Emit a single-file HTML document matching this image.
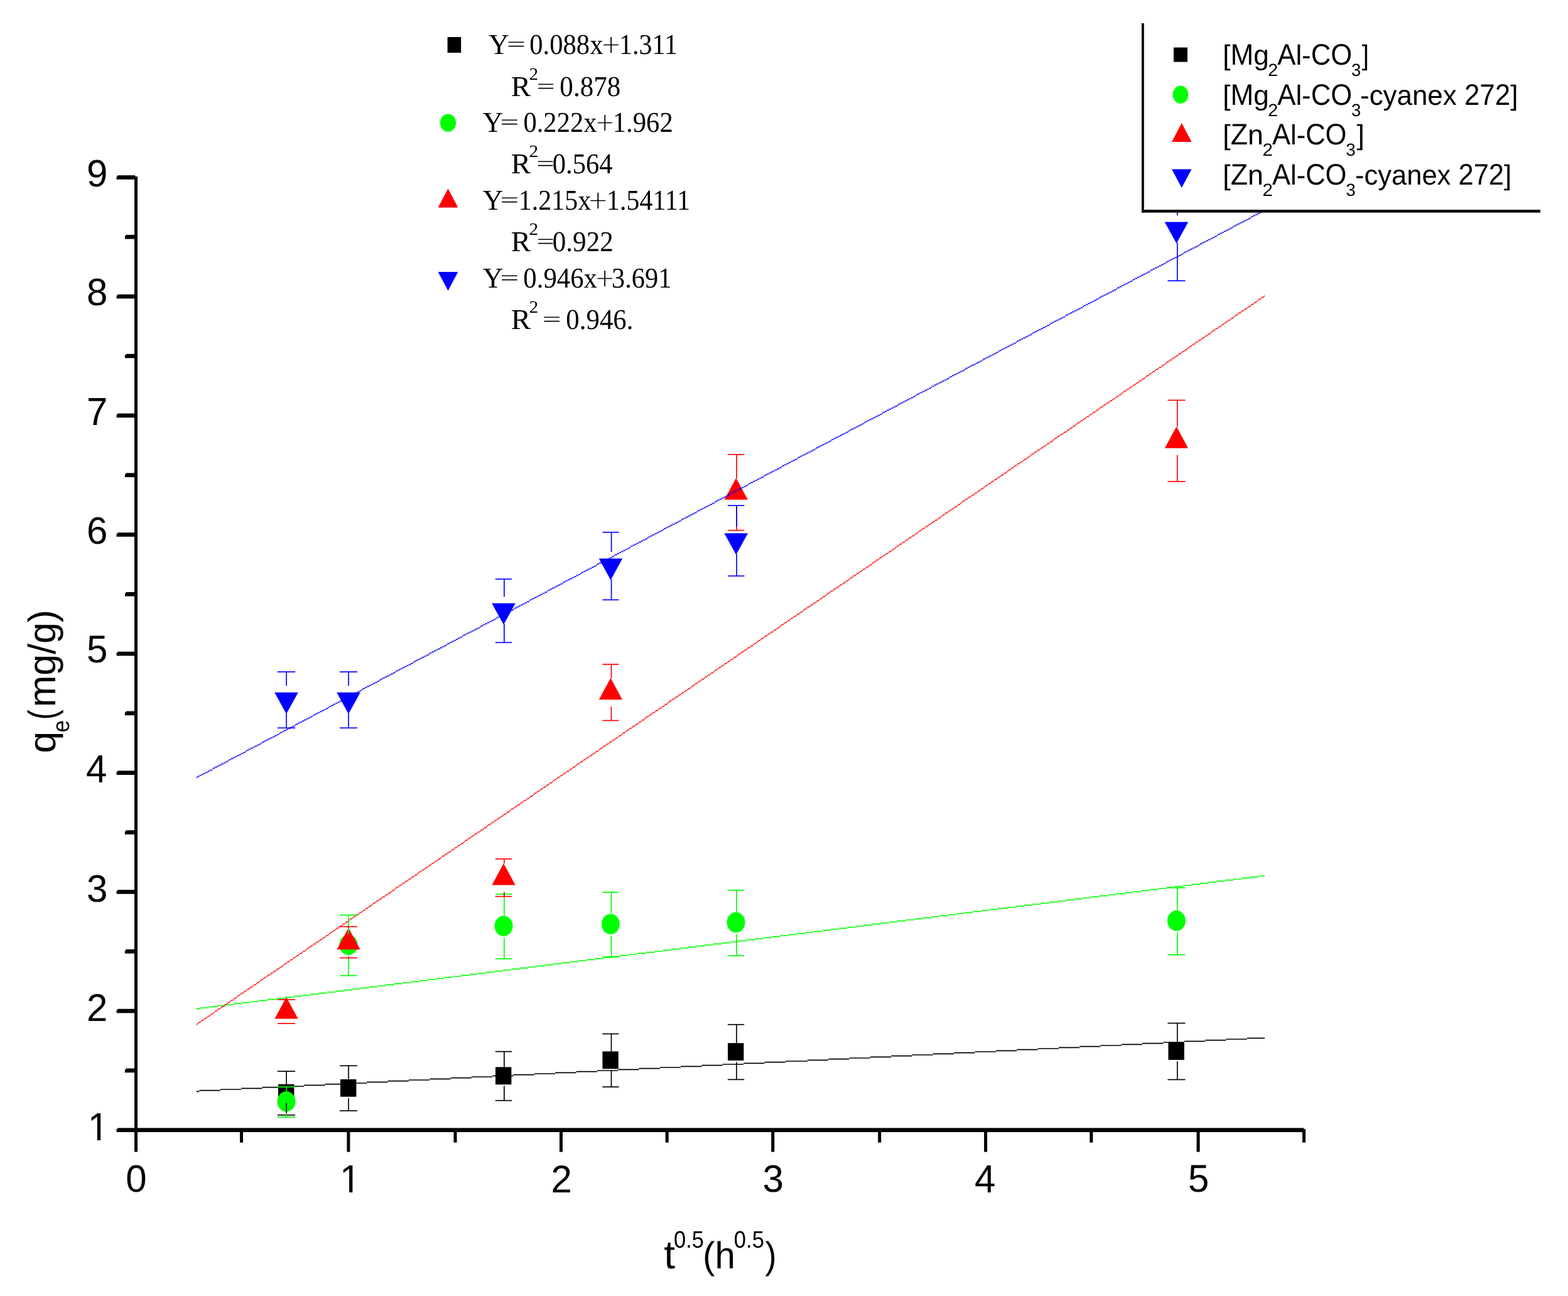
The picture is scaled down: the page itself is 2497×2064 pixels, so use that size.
<!DOCTYPE html>
<html lang="en"><head><meta charset="utf-8"><title>Intraparticle diffusion plot</title>
<style>
html,body{margin:0;padding:0;background:#fff;}
body{width:2497px;height:2064px;overflow:hidden;}
svg{display:block;}
text{text-rendering:geometricPrecision;}
.sans{font-family:"Liberation Sans",Arial,Helvetica,sans-serif;fill:#000;}
.serif{font-family:"Liberation Serif","Times New Roman",Times,serif;fill:#000;}
.op{font-family:"DejaVu Sans Light","DejaVu Sans","Liberation Sans",sans-serif;font-weight:200;fill:#000;}
</style></head><body>
<svg width="2497" height="2064" viewBox="0 0 2497 2064">
<rect x="0" y="0" width="2497" height="2064" fill="#fff"/>
<g id="markers">
<rect x="443.00" y="1726.65" width="25.40" height="27.80" fill="#000"/>
<rect x="542.00" y="1718.85" width="25.40" height="27.80" fill="#000"/>
<rect x="789.00" y="1699.40" width="25.40" height="27.80" fill="#000"/>
<rect x="959.40" y="1674.45" width="25.40" height="27.80" fill="#000"/>
<rect x="1159.00" y="1661.20" width="25.40" height="27.80" fill="#000"/>
<rect x="1860.50" y="1660.15" width="25.40" height="27.80" fill="#000"/>
<ellipse cx="456.00" cy="1754.30" rx="14.5" ry="16.3" fill="#0f0"/>
<ellipse cx="555.00" cy="1504.70" rx="14.5" ry="16.3" fill="#0f0"/>
<ellipse cx="802.00" cy="1474.70" rx="14.5" ry="16.3" fill="#0f0"/>
<ellipse cx="972.40" cy="1471.70" rx="14.5" ry="16.3" fill="#0f0"/>
<ellipse cx="1172.00" cy="1469.05" rx="14.5" ry="16.3" fill="#0f0"/>
<ellipse cx="1873.50" cy="1466.35" rx="14.5" ry="16.3" fill="#0f0"/>
<polygon points="456.00,1588.10 474.60,1622.60 437.40,1622.60" fill="#f00"/>
<polygon points="555.00,1477.70 573.60,1512.20 536.40,1512.20" fill="#f00"/>
<polygon points="802.00,1374.95 820.60,1409.45 783.40,1409.45" fill="#f00"/>
<polygon points="972.40,1079.85 991.00,1114.35 953.80,1114.35" fill="#f00"/>
<polygon points="1172.20,761.30 1190.80,795.80 1153.60,795.80" fill="#f00"/>
<polygon points="1873.50,679.20 1892.10,713.70 1854.90,713.70" fill="#f00"/>
<polygon points="437.20,1102.65 474.80,1102.65 456.00,1136.95" fill="#00f"/>
<polygon points="536.20,1102.65 573.80,1102.65 555.00,1136.95" fill="#00f"/>
<polygon points="783.20,960.80 820.80,960.80 802.00,995.10" fill="#00f"/>
<polygon points="953.70,889.50 991.30,889.50 972.50,923.80" fill="#00f"/>
<polygon points="1153.40,849.20 1191.00,849.20 1172.20,883.50" fill="#00f"/>
<polygon points="1854.70,353.50 1892.30,353.50 1873.50,387.80" fill="#00f"/>
</g>
<g id="fits">
<path d="M312.5 1738.3h5.0M317.5 1736.7h33.3M350.8 1735.0h33.3M384.2 1733.3h33.3M417.5 1731.7h33.3M450.8 1730.0h33.3M484.2 1728.3h33.3M517.5 1726.7h33.3M550.8 1725.0h33.3M584.2 1723.3h33.3M617.5 1721.7h33.3M650.8 1720.0h33.3M684.2 1718.3h33.3M717.5 1716.7h33.3M750.8 1715.0h33.3M784.2 1713.3h33.3M817.5 1711.7h33.3M850.8 1710.0h33.3M884.2 1708.3h33.3M917.5 1706.7h33.3M950.8 1705.0h33.3M984.2 1703.3h33.3M1017.5 1701.7h33.3M1050.8 1700.0h33.3M1084.2 1698.3h33.3M1117.5 1696.7h33.3M1150.8 1695.0h33.3M1184.2 1693.3h33.3M1217.5 1691.7h33.3M1250.8 1690.0h35.0M1285.8 1688.3h33.3M1319.2 1686.7h33.3M1352.5 1685.0h33.3M1385.8 1683.3h33.3M1419.2 1681.7h33.3M1452.5 1680.0h33.3M1485.8 1678.3h33.3M1519.2 1676.7h33.3M1552.5 1675.0h33.3M1585.8 1673.3h33.3M1619.2 1671.7h33.3M1652.5 1670.0h33.3M1685.8 1668.3h33.3M1719.2 1666.7h33.3M1752.5 1665.0h33.3M1785.8 1663.3h33.3M1819.2 1661.7h33.3M1852.5 1660.0h33.3M1885.8 1658.3h33.3M1919.2 1656.7h33.3M1952.5 1655.0h33.3M1985.8 1653.3h28.3" stroke="#000" stroke-width="1.667" fill="none"/>
<path d="M312.5 1606.7h6.7M319.2 1605.0h13.3M332.5 1603.3h13.3M345.8 1601.7h13.3M359.2 1600.0h13.3M372.5 1598.3h13.3M385.8 1596.7h13.3M399.2 1595.0h13.3M412.5 1593.3h13.3M425.8 1591.7h15.0M440.8 1590.0h13.3M454.2 1588.3h13.3M467.5 1586.7h13.3M480.8 1585.0h13.3M494.2 1583.3h13.3M507.5 1581.7h13.3M520.8 1580.0h13.3M534.2 1578.3h13.3M547.5 1576.7h13.3M560.8 1575.0h13.3M574.2 1573.3h13.3M587.5 1571.7h13.3M600.8 1570.0h13.3M614.2 1568.3h13.3M627.5 1566.7h13.3M640.8 1565.0h13.3M654.2 1563.3h13.3M667.5 1561.7h13.3M680.8 1560.0h13.3M694.2 1558.3h13.3M707.5 1556.7h13.3M720.8 1555.0h13.3M734.2 1553.3h13.3M747.5 1551.7h13.3M760.8 1550.0h13.3M774.2 1548.3h13.3M787.5 1546.7h13.3M800.8 1545.0h13.3M814.2 1543.3h13.3M827.5 1541.7h13.3M840.8 1540.0h13.3M854.2 1538.3h13.3M867.5 1536.7h13.3M880.8 1535.0h13.3M894.2 1533.3h13.3M907.5 1531.7h13.3M920.8 1530.0h13.3M934.2 1528.3h13.3M947.5 1526.7h13.3M960.8 1525.0h13.3M974.2 1523.3h13.3M987.5 1521.7h13.3M1000.8 1520.0h13.3M1014.2 1518.3h15.0M1029.2 1516.7h13.3M1042.5 1515.0h13.3M1055.8 1513.3h13.3M1069.2 1511.7h13.3M1082.5 1510.0h13.3M1095.8 1508.3h13.3M1109.2 1506.7h13.3M1122.5 1505.0h13.3M1135.8 1503.3h13.3M1149.2 1501.7h13.3M1162.5 1500.0h13.3M1175.8 1498.3h13.3M1189.2 1496.7h13.3M1202.5 1495.0h13.3M1215.8 1493.3h13.3M1229.2 1491.7h13.3M1242.5 1490.0h13.3M1255.8 1488.3h13.3M1269.2 1486.7h13.3M1282.5 1485.0h13.3M1295.8 1483.3h13.3M1309.2 1481.7h13.3M1322.5 1480.0h13.3M1335.8 1478.3h13.3M1349.2 1476.7h13.3M1362.5 1475.0h13.3M1375.8 1473.3h13.3M1389.2 1471.7h13.3M1402.5 1470.0h13.3M1415.8 1468.3h13.3M1429.2 1466.7h13.3M1442.5 1465.0h13.3M1455.8 1463.3h13.3M1469.2 1461.7h13.3M1482.5 1460.0h13.3M1495.8 1458.3h13.3M1509.2 1456.7h13.3M1522.5 1455.0h13.3M1535.8 1453.3h13.3M1549.2 1451.7h13.3M1562.5 1450.0h13.3M1575.8 1448.3h13.3M1589.2 1446.7h15.0M1604.2 1445.0h13.3M1617.5 1443.3h13.3M1630.8 1441.7h13.3M1644.2 1440.0h13.3M1657.5 1438.3h13.3M1670.8 1436.7h13.3M1684.2 1435.0h13.3M1697.5 1433.3h13.3M1710.8 1431.7h13.3M1724.2 1430.0h13.3M1737.5 1428.3h13.3M1750.8 1426.7h13.3M1764.2 1425.0h13.3M1777.5 1423.3h13.3M1790.8 1421.7h13.3M1804.2 1420.0h13.3M1817.5 1418.3h13.3M1830.8 1416.7h13.3M1844.2 1415.0h13.3M1857.5 1413.3h13.3M1870.8 1411.7h13.3M1884.2 1410.0h13.3M1897.5 1408.3h13.3M1910.8 1406.7h13.3M1924.2 1405.0h13.3M1937.5 1403.3h13.3M1950.8 1401.7h13.3M1964.2 1400.0h13.3M1977.5 1398.3h13.3M1990.8 1396.7h13.3M2004.2 1395.0h10.0" stroke="#0f0" stroke-width="1.667" fill="none"/>
<path d="M312.5 1631.7h1.7M314.2 1630.0h1.7M315.8 1628.3h3.3M319.2 1626.7h1.7M320.8 1625.0h3.3M324.2 1623.3h1.7M325.8 1621.7h3.3M329.2 1620.0h1.7M330.8 1618.3h3.3M334.2 1616.7h1.7M335.8 1615.0h3.3M339.2 1613.3h1.7M340.8 1611.7h1.7M342.5 1610.0h3.3M345.8 1608.3h1.7M347.5 1606.7h3.3M350.8 1605.0h1.7M352.5 1603.3h3.3M355.8 1601.7h1.7M357.5 1600.0h3.3M360.8 1598.3h1.7M362.5 1596.7h3.3M365.8 1595.0h1.7M367.5 1593.3h3.3M370.8 1591.7h1.7M372.5 1590.0h3.3M375.8 1588.3h1.7M377.5 1586.7h1.7M379.2 1585.0h3.3M382.5 1583.3h1.7M384.2 1581.7h3.3M387.5 1580.0h1.7M389.2 1578.3h3.3M392.5 1576.7h1.7M394.2 1575.0h3.3M397.5 1573.3h1.7M399.2 1571.7h3.3M402.5 1570.0h1.7M404.2 1568.3h3.3M407.5 1566.7h1.7M409.2 1565.0h3.3M412.5 1563.3h1.7M414.2 1561.7h1.7M415.8 1560.0h3.3M419.2 1558.3h1.7M420.8 1556.7h3.3M424.2 1555.0h1.7M425.8 1553.3h3.3M429.2 1551.7h1.7M430.8 1550.0h3.3M434.2 1548.3h1.7M435.8 1546.7h3.3M439.2 1545.0h1.7M440.8 1543.3h3.3M444.2 1541.7h1.7M445.8 1540.0h3.3M449.2 1538.3h1.7M450.8 1536.7h1.7M452.5 1535.0h3.3M455.8 1533.3h1.7M457.5 1531.7h3.3M460.8 1530.0h1.7M462.5 1528.3h3.3M465.8 1526.7h1.7M467.5 1525.0h3.3M470.8 1523.3h1.7M472.5 1521.7h3.3M475.8 1520.0h1.7M477.5 1518.3h3.3M480.8 1516.7h1.7M482.5 1515.0h3.3M485.8 1513.3h1.7M487.5 1511.7h1.7M489.2 1510.0h3.3M492.5 1508.3h1.7M494.2 1506.7h3.3M497.5 1505.0h1.7M499.2 1503.3h3.3M502.5 1501.7h1.7M504.2 1500.0h3.3M507.5 1498.3h1.7M509.2 1496.7h3.3M512.5 1495.0h1.7M514.2 1493.3h3.3M517.5 1491.7h1.7M519.2 1490.0h3.3M522.5 1488.3h1.7M524.2 1486.7h1.7M525.8 1485.0h3.3M529.2 1483.3h1.7M530.8 1481.7h3.3M534.2 1480.0h1.7M535.8 1478.3h3.3M539.2 1476.7h1.7M540.8 1475.0h3.3M544.2 1473.3h1.7M545.8 1471.7h3.3M549.2 1470.0h1.7M550.8 1468.3h3.3M554.2 1466.7h1.7M555.8 1465.0h1.7M557.5 1463.3h3.3M560.8 1461.7h1.7M562.5 1460.0h3.3M565.8 1458.3h1.7M567.5 1456.7h3.3M570.8 1455.0h1.7M572.5 1453.3h3.3M575.8 1451.7h1.7M577.5 1450.0h3.3M580.8 1448.3h1.7M582.5 1446.7h3.3M585.8 1445.0h1.7M587.5 1443.3h3.3M590.8 1441.7h1.7M592.5 1440.0h1.7M594.2 1438.3h3.3M597.5 1436.7h1.7M599.2 1435.0h3.3M602.5 1433.3h1.7M604.2 1431.7h3.3M607.5 1430.0h1.7M609.2 1428.3h3.3M612.5 1426.7h1.7M614.2 1425.0h3.3M617.5 1423.3h1.7M619.2 1421.7h3.3M622.5 1420.0h1.7M624.2 1418.3h3.3M627.5 1416.7h1.7M629.2 1415.0h1.7M630.8 1413.3h3.3M634.2 1411.7h1.7M635.8 1410.0h3.3M639.2 1408.3h1.7M640.8 1406.7h3.3M644.2 1405.0h1.7M645.8 1403.3h3.3M649.2 1401.7h1.7M650.8 1400.0h3.3M654.2 1398.3h1.7M655.8 1396.7h3.3M659.2 1395.0h1.7M660.8 1393.3h3.3M664.2 1391.7h1.7M665.8 1390.0h1.7M667.5 1388.3h3.3M670.8 1386.7h1.7M672.5 1385.0h3.3M675.8 1383.3h1.7M677.5 1381.7h3.3M680.8 1380.0h1.7M682.5 1378.3h3.3M685.8 1376.7h1.7M687.5 1375.0h3.3M690.8 1373.3h1.7M692.5 1371.7h3.3M695.8 1370.0h1.7M697.5 1368.3h3.3M700.8 1366.7h1.7M702.5 1365.0h1.7M704.2 1363.3h3.3M707.5 1361.7h1.7M709.2 1360.0h3.3M712.5 1358.3h1.7M714.2 1356.7h3.3M717.5 1355.0h1.7M719.2 1353.3h3.3M722.5 1351.7h1.7M724.2 1350.0h3.3M727.5 1348.3h1.7M729.2 1346.7h3.3M732.5 1345.0h1.7M734.2 1343.3h3.3M737.5 1341.7h1.7M739.2 1340.0h1.7M740.8 1338.3h3.3M744.2 1336.7h1.7M745.8 1335.0h3.3M749.2 1333.3h1.7M750.8 1331.7h3.3M754.2 1330.0h1.7M755.8 1328.3h3.3M759.2 1326.7h1.7M760.8 1325.0h3.3M764.2 1323.3h1.7M765.8 1321.7h3.3M769.2 1320.0h1.7M770.8 1318.3h3.3M774.2 1316.7h1.7M775.8 1315.0h1.7M777.5 1313.3h3.3M780.8 1311.7h1.7M782.5 1310.0h3.3M785.8 1308.3h1.7M787.5 1306.7h3.3M790.8 1305.0h1.7M792.5 1303.3h3.3M795.8 1301.7h1.7M797.5 1300.0h3.3M800.8 1298.3h1.7M802.5 1296.7h3.3M805.8 1295.0h1.7M807.5 1293.3h3.3M810.8 1291.7h1.7M812.5 1290.0h1.7M814.2 1288.3h3.3M817.5 1286.7h1.7M819.2 1285.0h3.3M822.5 1283.3h1.7M824.2 1281.7h3.3M827.5 1280.0h1.7M829.2 1278.3h3.3M832.5 1276.7h1.7M834.2 1275.0h3.3M837.5 1273.3h1.7M839.2 1271.7h3.3M842.5 1270.0h1.7M844.2 1268.3h3.3M847.5 1266.7h1.7M849.2 1265.0h1.7M850.8 1263.3h3.3M854.2 1261.7h1.7M855.8 1260.0h3.3M859.2 1258.3h1.7M860.8 1256.7h3.3M864.2 1255.0h1.7M865.8 1253.3h3.3M869.2 1251.7h1.7M870.8 1250.0h3.3M874.2 1248.3h1.7M875.8 1246.7h3.3M879.2 1245.0h1.7M880.8 1243.3h1.7M882.5 1241.7h3.3M885.8 1240.0h1.7M887.5 1238.3h3.3M890.8 1236.7h1.7M892.5 1235.0h3.3M895.8 1233.3h1.7M897.5 1231.7h3.3M900.8 1230.0h1.7M902.5 1228.3h3.3M905.8 1226.7h1.7M907.5 1225.0h3.3M910.8 1223.3h1.7M912.5 1221.7h3.3M915.8 1220.0h1.7M917.5 1218.3h1.7M919.2 1216.7h3.3M922.5 1215.0h1.7M924.2 1213.3h3.3M927.5 1211.7h1.7M929.2 1210.0h3.3M932.5 1208.3h1.7M934.2 1206.7h3.3M937.5 1205.0h1.7M939.2 1203.3h3.3M942.5 1201.7h1.7M944.2 1200.0h3.3M947.5 1198.3h1.7M949.2 1196.7h3.3M952.5 1195.0h1.7M954.2 1193.3h1.7M955.8 1191.7h3.3M959.2 1190.0h1.7M960.8 1188.3h3.3M964.2 1186.7h1.7M965.8 1185.0h3.3M969.2 1183.3h1.7M970.8 1181.7h3.3M974.2 1180.0h1.7M975.8 1178.3h3.3M979.2 1176.7h1.7M980.8 1175.0h3.3M984.2 1173.3h1.7M985.8 1171.7h3.3M989.2 1170.0h1.7M990.8 1168.3h1.7M992.5 1166.7h3.3M995.8 1165.0h1.7M997.5 1163.3h3.3M1000.8 1161.7h1.7M1002.5 1160.0h3.3M1005.8 1158.3h1.7M1007.5 1156.7h3.3M1010.8 1155.0h1.7M1012.5 1153.3h3.3M1015.8 1151.7h1.7M1017.5 1150.0h3.3M1020.8 1148.3h1.7M1022.5 1146.7h3.3M1025.8 1145.0h1.7M1027.5 1143.3h1.7M1029.2 1141.7h3.3M1032.5 1140.0h1.7M1034.2 1138.3h3.3M1037.5 1136.7h1.7M1039.2 1135.0h3.3M1042.5 1133.3h1.7M1044.2 1131.7h3.3M1047.5 1130.0h1.7M1049.2 1128.3h3.3M1052.5 1126.7h1.7M1054.2 1125.0h3.3M1057.5 1123.3h1.7M1059.2 1121.7h3.3M1062.5 1120.0h1.7M1064.2 1118.3h1.7M1065.8 1116.7h3.3M1069.2 1115.0h1.7M1070.8 1113.3h3.3M1074.2 1111.7h1.7M1075.8 1110.0h3.3M1079.2 1108.3h1.7M1080.8 1106.7h3.3M1084.2 1105.0h1.7M1085.8 1103.3h3.3M1089.2 1101.7h1.7M1090.8 1100.0h3.3M1094.2 1098.3h1.7M1095.8 1096.7h3.3M1099.2 1095.0h1.7M1100.8 1093.3h1.7M1102.5 1091.7h3.3M1105.8 1090.0h1.7M1107.5 1088.3h3.3M1110.8 1086.7h1.7M1112.5 1085.0h3.3M1115.8 1083.3h1.7M1117.5 1081.7h3.3M1120.8 1080.0h1.7M1122.5 1078.3h3.3M1125.8 1076.7h1.7M1127.5 1075.0h3.3M1130.8 1073.3h1.7M1132.5 1071.7h3.3M1135.8 1070.0h1.7M1137.5 1068.3h1.7M1139.2 1066.7h3.3M1142.5 1065.0h1.7M1144.2 1063.3h3.3M1147.5 1061.7h1.7M1149.2 1060.0h3.3M1152.5 1058.3h1.7M1154.2 1056.7h3.3M1157.5 1055.0h1.7M1159.2 1053.3h3.3M1162.5 1051.7h1.7M1164.2 1050.0h3.3M1167.5 1048.3h1.7M1169.2 1046.7h3.3M1172.5 1045.0h1.7M1174.2 1043.3h1.7M1175.8 1041.7h3.3M1179.2 1040.0h1.7M1180.8 1038.3h3.3M1184.2 1036.7h1.7M1185.8 1035.0h3.3M1189.2 1033.3h1.7M1190.8 1031.7h3.3M1194.2 1030.0h1.7M1195.8 1028.3h3.3M1199.2 1026.7h1.7M1200.8 1025.0h3.3M1204.2 1023.3h1.7M1205.8 1021.7h1.7M1207.5 1020.0h3.3M1210.8 1018.3h1.7M1212.5 1016.7h3.3M1215.8 1015.0h1.7M1217.5 1013.3h3.3M1220.8 1011.7h1.7M1222.5 1010.0h3.3M1225.8 1008.3h1.7M1227.5 1006.7h3.3M1230.8 1005.0h1.7M1232.5 1003.3h3.3M1235.8 1001.7h1.7M1237.5 1000.0h3.3M1240.8 998.3h1.7M1242.5 996.7h1.7M1244.2 995.0h3.3M1247.5 993.3h1.7M1249.2 991.7h3.3M1252.5 990.0h1.7M1254.2 988.3h3.3M1257.5 986.7h1.7M1259.2 985.0h3.3M1262.5 983.3h1.7M1264.2 981.7h3.3M1267.5 980.0h1.7M1269.2 978.3h3.3M1272.5 976.7h1.7M1274.2 975.0h3.3M1277.5 973.3h1.7M1279.2 971.7h1.7M1280.8 970.0h3.3M1284.2 968.3h1.7M1285.8 966.7h3.3M1289.2 965.0h1.7M1290.8 963.3h3.3M1294.2 961.7h1.7M1295.8 960.0h3.3M1299.2 958.3h1.7M1300.8 956.7h3.3M1304.2 955.0h1.7M1305.8 953.3h3.3M1309.2 951.7h1.7M1310.8 950.0h3.3M1314.2 948.3h1.7M1315.8 946.7h1.7M1317.5 945.0h3.3M1320.8 943.3h1.7M1322.5 941.7h3.3M1325.8 940.0h1.7M1327.5 938.3h3.3M1330.8 936.7h1.7M1332.5 935.0h3.3M1335.8 933.3h1.7M1337.5 931.7h3.3M1340.8 930.0h1.7M1342.5 928.3h3.3M1345.8 926.7h1.7M1347.5 925.0h3.3M1350.8 923.3h1.7M1352.5 921.7h1.7M1354.2 920.0h3.3M1357.5 918.3h1.7M1359.2 916.7h3.3M1362.5 915.0h1.7M1364.2 913.3h3.3M1367.5 911.7h1.7M1369.2 910.0h3.3M1372.5 908.3h1.7M1374.2 906.7h3.3M1377.5 905.0h1.7M1379.2 903.3h3.3M1382.5 901.7h1.7M1384.2 900.0h3.3M1387.5 898.3h1.7M1389.2 896.7h1.7M1390.8 895.0h3.3M1394.2 893.3h1.7M1395.8 891.7h3.3M1399.2 890.0h1.7M1400.8 888.3h3.3M1404.2 886.7h1.7M1405.8 885.0h3.3M1409.2 883.3h1.7M1410.8 881.7h3.3M1414.2 880.0h1.7M1415.8 878.3h3.3M1419.2 876.7h1.7M1420.8 875.0h3.3M1424.2 873.3h1.7M1425.8 871.7h1.7M1427.5 870.0h3.3M1430.8 868.3h1.7M1432.5 866.7h3.3M1435.8 865.0h1.7M1437.5 863.3h3.3M1440.8 861.7h1.7M1442.5 860.0h3.3M1445.8 858.3h1.7M1447.5 856.7h3.3M1450.8 855.0h1.7M1452.5 853.3h3.3M1455.8 851.7h1.7M1457.5 850.0h3.3M1460.8 848.3h1.7M1462.5 846.7h1.7M1464.2 845.0h3.3M1467.5 843.3h1.7M1469.2 841.7h3.3M1472.5 840.0h1.7M1474.2 838.3h3.3M1477.5 836.7h1.7M1479.2 835.0h3.3M1482.5 833.3h1.7M1484.2 831.7h3.3M1487.5 830.0h1.7M1489.2 828.3h3.3M1492.5 826.7h1.7M1494.2 825.0h3.3M1497.5 823.3h1.7M1499.2 821.7h1.7M1500.8 820.0h3.3M1504.2 818.3h1.7M1505.8 816.7h3.3M1509.2 815.0h1.7M1510.8 813.3h3.3M1514.2 811.7h1.7M1515.8 810.0h3.3M1519.2 808.3h1.7M1520.8 806.7h3.3M1524.2 805.0h1.7M1525.8 803.3h3.3M1529.2 801.7h1.7M1530.8 800.0h1.7M1532.5 798.3h3.3M1535.8 796.7h1.7M1537.5 795.0h3.3M1540.8 793.3h1.7M1542.5 791.7h3.3M1545.8 790.0h1.7M1547.5 788.3h3.3M1550.8 786.7h1.7M1552.5 785.0h3.3M1555.8 783.3h1.7M1557.5 781.7h3.3M1560.8 780.0h1.7M1562.5 778.3h3.3M1565.8 776.7h1.7M1567.5 775.0h1.7M1569.2 773.3h3.3M1572.5 771.7h1.7M1574.2 770.0h3.3M1577.5 768.3h1.7M1579.2 766.7h3.3M1582.5 765.0h1.7M1584.2 763.3h3.3M1587.5 761.7h1.7M1589.2 760.0h3.3M1592.5 758.3h1.7M1594.2 756.7h3.3M1597.5 755.0h1.7M1599.2 753.3h3.3M1602.5 751.7h1.7M1604.2 750.0h1.7M1605.8 748.3h3.3M1609.2 746.7h1.7M1610.8 745.0h3.3M1614.2 743.3h1.7M1615.8 741.7h3.3M1619.2 740.0h1.7M1620.8 738.3h3.3M1624.2 736.7h1.7M1625.8 735.0h3.3M1629.2 733.3h1.7M1630.8 731.7h3.3M1634.2 730.0h1.7M1635.8 728.3h3.3M1639.2 726.7h1.7M1640.8 725.0h1.7M1642.5 723.3h3.3M1645.8 721.7h1.7M1647.5 720.0h3.3M1650.8 718.3h1.7M1652.5 716.7h3.3M1655.8 715.0h1.7M1657.5 713.3h3.3M1660.8 711.7h1.7M1662.5 710.0h3.3M1665.8 708.3h1.7M1667.5 706.7h3.3M1670.8 705.0h1.7M1672.5 703.3h3.3M1675.8 701.7h1.7M1677.5 700.0h1.7M1679.2 698.3h3.3M1682.5 696.7h1.7M1684.2 695.0h3.3M1687.5 693.3h1.7M1689.2 691.7h3.3M1692.5 690.0h1.7M1694.2 688.3h3.3M1697.5 686.7h1.7M1699.2 685.0h3.3M1702.5 683.3h1.7M1704.2 681.7h3.3M1707.5 680.0h1.7M1709.2 678.3h3.3M1712.5 676.7h1.7M1714.2 675.0h1.7M1715.8 673.3h3.3M1719.2 671.7h1.7M1720.8 670.0h3.3M1724.2 668.3h1.7M1725.8 666.7h3.3M1729.2 665.0h1.7M1730.8 663.3h3.3M1734.2 661.7h1.7M1735.8 660.0h3.3M1739.2 658.3h1.7M1740.8 656.7h3.3M1744.2 655.0h1.7M1745.8 653.3h3.3M1749.2 651.7h1.7M1750.8 650.0h1.7M1752.5 648.3h3.3M1755.8 646.7h1.7M1757.5 645.0h3.3M1760.8 643.3h1.7M1762.5 641.7h3.3M1765.8 640.0h1.7M1767.5 638.3h3.3M1770.8 636.7h1.7M1772.5 635.0h3.3M1775.8 633.3h1.7M1777.5 631.7h3.3M1780.8 630.0h1.7M1782.5 628.3h3.3M1785.8 626.7h1.7M1787.5 625.0h1.7M1789.2 623.3h3.3M1792.5 621.7h1.7M1794.2 620.0h3.3M1797.5 618.3h1.7M1799.2 616.7h3.3M1802.5 615.0h1.7M1804.2 613.3h3.3M1807.5 611.7h1.7M1809.2 610.0h3.3M1812.5 608.3h1.7M1814.2 606.7h3.3M1817.5 605.0h1.7M1819.2 603.3h3.3M1822.5 601.7h1.7M1824.2 600.0h1.7M1825.8 598.3h3.3M1829.2 596.7h1.7M1830.8 595.0h3.3M1834.2 593.3h1.7M1835.8 591.7h3.3M1839.2 590.0h1.7M1840.8 588.3h3.3M1844.2 586.7h1.7M1845.8 585.0h3.3M1849.2 583.3h1.7M1850.8 581.7h3.3M1854.2 580.0h1.7M1855.8 578.3h1.7M1857.5 576.7h3.3M1860.8 575.0h1.7M1862.5 573.3h3.3M1865.8 571.7h1.7M1867.5 570.0h3.3M1870.8 568.3h1.7M1872.5 566.7h3.3M1875.8 565.0h1.7M1877.5 563.3h3.3M1880.8 561.7h1.7M1882.5 560.0h3.3M1885.8 558.3h1.7M1887.5 556.7h3.3M1890.8 555.0h1.7M1892.5 553.3h1.7M1894.2 551.7h3.3M1897.5 550.0h1.7M1899.2 548.3h3.3M1902.5 546.7h1.7M1904.2 545.0h3.3M1907.5 543.3h1.7M1909.2 541.7h3.3M1912.5 540.0h1.7M1914.2 538.3h3.3M1917.5 536.7h1.7M1919.2 535.0h3.3M1922.5 533.3h1.7M1924.2 531.7h3.3M1927.5 530.0h1.7M1929.2 528.3h1.7M1930.8 526.7h3.3M1934.2 525.0h1.7M1935.8 523.3h3.3M1939.2 521.7h1.7M1940.8 520.0h3.3M1944.2 518.3h1.7M1945.8 516.7h3.3M1949.2 515.0h1.7M1950.8 513.3h3.3M1954.2 511.7h1.7M1955.8 510.0h3.3M1959.2 508.3h1.7M1960.8 506.7h3.3M1964.2 505.0h1.7M1965.8 503.3h1.7M1967.5 501.7h3.3M1970.8 500.0h1.7M1972.5 498.3h3.3M1975.8 496.7h1.7M1977.5 495.0h3.3M1980.8 493.3h1.7M1982.5 491.7h3.3M1985.8 490.0h1.7M1987.5 488.3h3.3M1990.8 486.7h1.7M1992.5 485.0h3.3M1995.8 483.3h1.7M1997.5 481.7h3.3M2000.8 480.0h1.7M2002.5 478.3h1.7M2004.2 476.7h3.3M2007.5 475.0h1.7M2009.2 473.3h3.3M2012.5 471.7h1.7" stroke="#f00" stroke-width="1.667" fill="none"/>
<path d="M312.5 1238.3h1.7M314.2 1236.7h3.3M317.5 1235.0h3.3M320.8 1233.3h3.3M324.2 1231.7h3.3M327.5 1230.0h3.3M330.8 1228.3h3.3M334.2 1226.7h3.3M337.5 1225.0h1.7M339.2 1223.3h3.3M342.5 1221.7h3.3M345.8 1220.0h3.3M349.2 1218.3h3.3M352.5 1216.7h3.3M355.8 1215.0h3.3M359.2 1213.3h3.3M362.5 1211.7h1.7M364.2 1210.0h3.3M367.5 1208.3h3.3M370.8 1206.7h3.3M374.2 1205.0h3.3M377.5 1203.3h3.3M380.8 1201.7h3.3M384.2 1200.0h3.3M387.5 1198.3h3.3M390.8 1196.7h1.7M392.5 1195.0h3.3M395.8 1193.3h3.3M399.2 1191.7h3.3M402.5 1190.0h3.3M405.8 1188.3h3.3M409.2 1186.7h3.3M412.5 1185.0h3.3M415.8 1183.3h1.7M417.5 1181.7h3.3M420.8 1180.0h3.3M424.2 1178.3h3.3M427.5 1176.7h3.3M430.8 1175.0h3.3M434.2 1173.3h3.3M437.5 1171.7h3.3M440.8 1170.0h3.3M444.2 1168.3h1.7M445.8 1166.7h3.3M449.2 1165.0h3.3M452.5 1163.3h3.3M455.8 1161.7h3.3M459.2 1160.0h3.3M462.5 1158.3h3.3M465.8 1156.7h3.3M469.2 1155.0h1.7M470.8 1153.3h3.3M474.2 1151.7h3.3M477.5 1150.0h3.3M480.8 1148.3h3.3M484.2 1146.7h3.3M487.5 1145.0h3.3M490.8 1143.3h3.3M494.2 1141.7h3.3M497.5 1140.0h1.7M499.2 1138.3h3.3M502.5 1136.7h3.3M505.8 1135.0h3.3M509.2 1133.3h3.3M512.5 1131.7h3.3M515.8 1130.0h3.3M519.2 1128.3h3.3M522.5 1126.7h1.7M524.2 1125.0h3.3M527.5 1123.3h3.3M530.8 1121.7h3.3M534.2 1120.0h3.3M537.5 1118.3h3.3M540.8 1116.7h3.3M544.2 1115.0h3.3M547.5 1113.3h3.3M550.8 1111.7h1.7M552.5 1110.0h3.3M555.8 1108.3h3.3M559.2 1106.7h3.3M562.5 1105.0h3.3M565.8 1103.3h3.3M569.2 1101.7h3.3M572.5 1100.0h3.3M575.8 1098.3h1.7M577.5 1096.7h3.3M580.8 1095.0h3.3M584.2 1093.3h3.3M587.5 1091.7h3.3M590.8 1090.0h3.3M594.2 1088.3h3.3M597.5 1086.7h3.3M600.8 1085.0h3.3M604.2 1083.3h1.7M605.8 1081.7h3.3M609.2 1080.0h3.3M612.5 1078.3h3.3M615.8 1076.7h3.3M619.2 1075.0h3.3M622.5 1073.3h3.3M625.8 1071.7h3.3M629.2 1070.0h1.7M630.8 1068.3h3.3M634.2 1066.7h3.3M637.5 1065.0h3.3M640.8 1063.3h3.3M644.2 1061.7h3.3M647.5 1060.0h3.3M650.8 1058.3h3.3M654.2 1056.7h3.3M657.5 1055.0h1.7M659.2 1053.3h3.3M662.5 1051.7h3.3M665.8 1050.0h3.3M669.2 1048.3h3.3M672.5 1046.7h3.3M675.8 1045.0h3.3M679.2 1043.3h3.3M682.5 1041.7h1.7M684.2 1040.0h3.3M687.5 1038.3h3.3M690.8 1036.7h3.3M694.2 1035.0h3.3M697.5 1033.3h3.3M700.8 1031.7h3.3M704.2 1030.0h3.3M707.5 1028.3h3.3M710.8 1026.7h1.7M712.5 1025.0h3.3M715.8 1023.3h3.3M719.2 1021.7h3.3M722.5 1020.0h3.3M725.8 1018.3h3.3M729.2 1016.7h3.3M732.5 1015.0h3.3M735.8 1013.3h1.7M737.5 1011.7h3.3M740.8 1010.0h3.3M744.2 1008.3h3.3M747.5 1006.7h3.3M750.8 1005.0h3.3M754.2 1003.3h3.3M757.5 1001.7h3.3M760.8 1000.0h3.3M764.2 998.3h1.7M765.8 996.7h3.3M769.2 995.0h3.3M772.5 993.3h3.3M775.8 991.7h3.3M779.2 990.0h3.3M782.5 988.3h3.3M785.8 986.7h3.3M789.2 985.0h1.7M790.8 983.3h3.3M794.2 981.7h3.3M797.5 980.0h3.3M800.8 978.3h3.3M804.2 976.7h3.3M807.5 975.0h3.3M810.8 973.3h3.3M814.2 971.7h3.3M817.5 970.0h1.7M819.2 968.3h3.3M822.5 966.7h3.3M825.8 965.0h3.3M829.2 963.3h3.3M832.5 961.7h3.3M835.8 960.0h3.3M839.2 958.3h3.3M842.5 956.7h1.7M844.2 955.0h3.3M847.5 953.3h3.3M850.8 951.7h3.3M854.2 950.0h3.3M857.5 948.3h3.3M860.8 946.7h3.3M864.2 945.0h3.3M867.5 943.3h3.3M870.8 941.7h1.7M872.5 940.0h3.3M875.8 938.3h3.3M879.2 936.7h3.3M882.5 935.0h3.3M885.8 933.3h3.3M889.2 931.7h3.3M892.5 930.0h3.3M895.8 928.3h1.7M897.5 926.7h3.3M900.8 925.0h3.3M904.2 923.3h3.3M907.5 921.7h3.3M910.8 920.0h3.3M914.2 918.3h3.3M917.5 916.7h3.3M920.8 915.0h3.3M924.2 913.3h1.7M925.8 911.7h3.3M929.2 910.0h3.3M932.5 908.3h3.3M935.8 906.7h3.3M939.2 905.0h3.3M942.5 903.3h3.3M945.8 901.7h3.3M949.2 900.0h1.7M950.8 898.3h3.3M954.2 896.7h3.3M957.5 895.0h3.3M960.8 893.3h3.3M964.2 891.7h3.3M967.5 890.0h3.3M970.8 888.3h3.3M974.2 886.7h3.3M977.5 885.0h1.7M979.2 883.3h3.3M982.5 881.7h3.3M985.8 880.0h3.3M989.2 878.3h3.3M992.5 876.7h3.3M995.8 875.0h3.3M999.2 873.3h3.3M1002.5 871.7h1.7M1004.2 870.0h3.3M1007.5 868.3h3.3M1010.8 866.7h3.3M1014.2 865.0h3.3M1017.5 863.3h3.3M1020.8 861.7h3.3M1024.2 860.0h3.3M1027.5 858.3h3.3M1030.8 856.7h1.7M1032.5 855.0h3.3M1035.8 853.3h3.3M1039.2 851.7h3.3M1042.5 850.0h3.3M1045.8 848.3h3.3M1049.2 846.7h3.3M1052.5 845.0h3.3M1055.8 843.3h1.7M1057.5 841.7h3.3M1060.8 840.0h3.3M1064.2 838.3h3.3M1067.5 836.7h3.3M1070.8 835.0h3.3M1074.2 833.3h3.3M1077.5 831.7h3.3M1080.8 830.0h3.3M1084.2 828.3h1.7M1085.8 826.7h3.3M1089.2 825.0h3.3M1092.5 823.3h3.3M1095.8 821.7h3.3M1099.2 820.0h3.3M1102.5 818.3h3.3M1105.8 816.7h3.3M1109.2 815.0h1.7M1110.8 813.3h3.3M1114.2 811.7h3.3M1117.5 810.0h3.3M1120.8 808.3h3.3M1124.2 806.7h3.3M1127.5 805.0h3.3M1130.8 803.3h3.3M1134.2 801.7h3.3M1137.5 800.0h1.7M1139.2 798.3h3.3M1142.5 796.7h3.3M1145.8 795.0h3.3M1149.2 793.3h3.3M1152.5 791.7h3.3M1155.8 790.0h3.3M1159.2 788.3h3.3M1162.5 786.7h1.7M1164.2 785.0h3.3M1167.5 783.3h3.3M1170.8 781.7h3.3M1174.2 780.0h3.3M1177.5 778.3h3.3M1180.8 776.7h3.3M1184.2 775.0h3.3M1187.5 773.3h3.3M1190.8 771.7h1.7M1192.5 770.0h3.3M1195.8 768.3h3.3M1199.2 766.7h3.3M1202.5 765.0h3.3M1205.8 763.3h3.3M1209.2 761.7h3.3M1212.5 760.0h3.3M1215.8 758.3h1.7M1217.5 756.7h3.3M1220.8 755.0h3.3M1224.2 753.3h3.3M1227.5 751.7h3.3M1230.8 750.0h3.3M1234.2 748.3h3.3M1237.5 746.7h3.3M1240.8 745.0h3.3M1244.2 743.3h1.7M1245.8 741.7h3.3M1249.2 740.0h3.3M1252.5 738.3h3.3M1255.8 736.7h3.3M1259.2 735.0h3.3M1262.5 733.3h3.3M1265.8 731.7h3.3M1269.2 730.0h1.7M1270.8 728.3h3.3M1274.2 726.7h3.3M1277.5 725.0h3.3M1280.8 723.3h3.3M1284.2 721.7h3.3M1287.5 720.0h3.3M1290.8 718.3h3.3M1294.2 716.7h3.3M1297.5 715.0h1.7M1299.2 713.3h3.3M1302.5 711.7h3.3M1305.8 710.0h3.3M1309.2 708.3h3.3M1312.5 706.7h3.3M1315.8 705.0h3.3M1319.2 703.3h3.3M1322.5 701.7h1.7M1324.2 700.0h3.3M1327.5 698.3h3.3M1330.8 696.7h3.3M1334.2 695.0h3.3M1337.5 693.3h3.3M1340.8 691.7h3.3M1344.2 690.0h3.3M1347.5 688.3h3.3M1350.8 686.7h1.7M1352.5 685.0h3.3M1355.8 683.3h3.3M1359.2 681.7h3.3M1362.5 680.0h3.3M1365.8 678.3h3.3M1369.2 676.7h3.3M1372.5 675.0h3.3M1375.8 673.3h1.7M1377.5 671.7h3.3M1380.8 670.0h3.3M1384.2 668.3h3.3M1387.5 666.7h3.3M1390.8 665.0h3.3M1394.2 663.3h3.3M1397.5 661.7h3.3M1400.8 660.0h3.3M1404.2 658.3h1.7M1405.8 656.7h3.3M1409.2 655.0h3.3M1412.5 653.3h3.3M1415.8 651.7h3.3M1419.2 650.0h3.3M1422.5 648.3h3.3M1425.8 646.7h3.3M1429.2 645.0h1.7M1430.8 643.3h3.3M1434.2 641.7h3.3M1437.5 640.0h3.3M1440.8 638.3h3.3M1444.2 636.7h3.3M1447.5 635.0h3.3M1450.8 633.3h3.3M1454.2 631.7h3.3M1457.5 630.0h1.7M1459.2 628.3h3.3M1462.5 626.7h3.3M1465.8 625.0h3.3M1469.2 623.3h3.3M1472.5 621.7h3.3M1475.8 620.0h3.3M1479.2 618.3h3.3M1482.5 616.7h1.7M1484.2 615.0h3.3M1487.5 613.3h3.3M1490.8 611.7h3.3M1494.2 610.0h3.3M1497.5 608.3h3.3M1500.8 606.7h3.3M1504.2 605.0h3.3M1507.5 603.3h3.3M1510.8 601.7h1.7M1512.5 600.0h3.3M1515.8 598.3h3.3M1519.2 596.7h3.3M1522.5 595.0h3.3M1525.8 593.3h3.3M1529.2 591.7h3.3M1532.5 590.0h3.3M1535.8 588.3h1.7M1537.5 586.7h3.3M1540.8 585.0h3.3M1544.2 583.3h3.3M1547.5 581.7h3.3M1550.8 580.0h3.3M1554.2 578.3h3.3M1557.5 576.7h3.3M1560.8 575.0h3.3M1564.2 573.3h1.7M1565.8 571.7h3.3M1569.2 570.0h3.3M1572.5 568.3h3.3M1575.8 566.7h3.3M1579.2 565.0h3.3M1582.5 563.3h3.3M1585.8 561.7h3.3M1589.2 560.0h1.7M1590.8 558.3h3.3M1594.2 556.7h3.3M1597.5 555.0h3.3M1600.8 553.3h3.3M1604.2 551.7h3.3M1607.5 550.0h3.3M1610.8 548.3h3.3M1614.2 546.7h3.3M1617.5 545.0h1.7M1619.2 543.3h3.3M1622.5 541.7h3.3M1625.8 540.0h3.3M1629.2 538.3h3.3M1632.5 536.7h3.3M1635.8 535.0h3.3M1639.2 533.3h3.3M1642.5 531.7h1.7M1644.2 530.0h3.3M1647.5 528.3h3.3M1650.8 526.7h3.3M1654.2 525.0h3.3M1657.5 523.3h3.3M1660.8 521.7h3.3M1664.2 520.0h3.3M1667.5 518.3h3.3M1670.8 516.7h1.7M1672.5 515.0h3.3M1675.8 513.3h3.3M1679.2 511.7h3.3M1682.5 510.0h3.3M1685.8 508.3h3.3M1689.2 506.7h3.3M1692.5 505.0h3.3M1695.8 503.3h1.7M1697.5 501.7h3.3M1700.8 500.0h3.3M1704.2 498.3h3.3M1707.5 496.7h3.3M1710.8 495.0h3.3M1714.2 493.3h3.3M1717.5 491.7h3.3M1720.8 490.0h3.3M1724.2 488.3h1.7M1725.8 486.7h3.3M1729.2 485.0h3.3M1732.5 483.3h3.3M1735.8 481.7h3.3M1739.2 480.0h3.3M1742.5 478.3h3.3M1745.8 476.7h3.3M1749.2 475.0h1.7M1750.8 473.3h3.3M1754.2 471.7h3.3M1757.5 470.0h3.3M1760.8 468.3h3.3M1764.2 466.7h3.3M1767.5 465.0h3.3M1770.8 463.3h3.3M1774.2 461.7h3.3M1777.5 460.0h1.7M1779.2 458.3h3.3M1782.5 456.7h3.3M1785.8 455.0h3.3M1789.2 453.3h3.3M1792.5 451.7h3.3M1795.8 450.0h3.3M1799.2 448.3h3.3M1802.5 446.7h1.7M1804.2 445.0h3.3M1807.5 443.3h3.3M1810.8 441.7h3.3M1814.2 440.0h3.3M1817.5 438.3h3.3M1820.8 436.7h3.3M1824.2 435.0h3.3M1827.5 433.3h3.3M1830.8 431.7h1.7M1832.5 430.0h3.3M1835.8 428.3h3.3M1839.2 426.7h3.3M1842.5 425.0h3.3M1845.8 423.3h3.3M1849.2 421.7h3.3M1852.5 420.0h3.3M1855.8 418.3h1.7M1857.5 416.7h3.3M1860.8 415.0h3.3M1864.2 413.3h3.3M1867.5 411.7h3.3M1870.8 410.0h3.3M1874.2 408.3h3.3M1877.5 406.7h3.3M1880.8 405.0h3.3M1884.2 403.3h1.7M1885.8 401.7h3.3M1889.2 400.0h3.3M1892.5 398.3h3.3M1895.8 396.7h3.3M1899.2 395.0h3.3M1902.5 393.3h3.3M1905.8 391.7h3.3M1909.2 390.0h1.7M1910.8 388.3h3.3M1914.2 386.7h3.3M1917.5 385.0h3.3M1920.8 383.3h3.3M1924.2 381.7h3.3M1927.5 380.0h3.3M1930.8 378.3h3.3M1934.2 376.7h3.3M1937.5 375.0h1.7M1939.2 373.3h3.3M1942.5 371.7h3.3M1945.8 370.0h3.3M1949.2 368.3h3.3M1952.5 366.7h3.3M1955.8 365.0h3.3M1959.2 363.3h3.3M1962.5 361.7h1.7M1964.2 360.0h3.3M1967.5 358.3h3.3M1970.8 356.7h3.3M1974.2 355.0h3.3M1977.5 353.3h3.3M1980.8 351.7h3.3M1984.2 350.0h3.3M1987.5 348.3h3.3M1990.8 346.7h1.7M1992.5 345.0h3.3M1995.8 343.3h3.3M1999.2 341.7h3.3M2002.5 340.0h3.3M2005.8 338.3h3.3M2009.2 336.7h3.3M2012.5 335.0h1.7" stroke="#00f" stroke-width="1.667" fill="none"/>
</g>
<g id="errorbars">
<rect x="441.90" y="1705.27" width="28.20" height="1.67" fill="#000"/>
<rect x="441.90" y="1774.97" width="28.20" height="1.67" fill="#000"/>
<rect x="455.27" y="1706.10" width="1.67" height="20.85" fill="#000"/>
<rect x="455.27" y="1756.75" width="1.67" height="19.05" fill="#000"/>
<rect x="541.00" y="1696.47" width="28.00" height="1.67" fill="#000"/>
<rect x="541.00" y="1768.17" width="28.00" height="1.67" fill="#000"/>
<rect x="554.17" y="1697.30" width="1.67" height="21.85" fill="#000"/>
<rect x="554.17" y="1748.95" width="1.67" height="20.05" fill="#000"/>
<rect x="788.80" y="1673.87" width="26.40" height="1.67" fill="#000"/>
<rect x="788.80" y="1751.87" width="26.40" height="1.67" fill="#000"/>
<rect x="802.07" y="1674.70" width="1.67" height="25.00" fill="#000"/>
<rect x="802.07" y="1729.50" width="1.67" height="23.20" fill="#000"/>
<rect x="959.30" y="1645.67" width="26.20" height="1.67" fill="#000"/>
<rect x="959.30" y="1730.17" width="26.20" height="1.67" fill="#000"/>
<rect x="972.67" y="1646.50" width="1.67" height="28.25" fill="#000"/>
<rect x="972.67" y="1704.55" width="1.67" height="26.45" fill="#000"/>
<rect x="1158.85" y="1630.87" width="26.30" height="1.67" fill="#000"/>
<rect x="1158.85" y="1718.47" width="26.30" height="1.67" fill="#000"/>
<rect x="1172.07" y="1631.70" width="1.67" height="29.80" fill="#000"/>
<rect x="1172.07" y="1691.30" width="1.67" height="28.00" fill="#000"/>
<rect x="1859.45" y="1628.67" width="28.10" height="1.67" fill="#000"/>
<rect x="1859.45" y="1718.57" width="28.10" height="1.67" fill="#000"/>
<rect x="1874.07" y="1629.50" width="1.67" height="30.95" fill="#000"/>
<rect x="1874.07" y="1690.25" width="1.67" height="29.15" fill="#000"/>
<rect x="441.90" y="1730.17" width="28.20" height="1.67" fill="#0f0"/>
<rect x="441.90" y="1778.37" width="28.20" height="1.67" fill="#0f0"/>
<rect x="455.27" y="1731.00" width="1.67" height="6.60" fill="#0f0"/>
<rect x="455.27" y="1772.80" width="1.67" height="6.40" fill="#0f0"/>
<rect x="541.00" y="1456.47" width="28.00" height="1.67" fill="#0f0"/>
<rect x="541.00" y="1552.87" width="28.00" height="1.67" fill="#0f0"/>
<rect x="554.17" y="1457.30" width="1.67" height="30.70" fill="#0f0"/>
<rect x="554.17" y="1523.20" width="1.67" height="30.50" fill="#0f0"/>
<rect x="788.80" y="1423.17" width="26.40" height="1.67" fill="#0f0"/>
<rect x="788.80" y="1526.17" width="26.40" height="1.67" fill="#0f0"/>
<rect x="802.07" y="1424.00" width="1.67" height="34.00" fill="#0f0"/>
<rect x="802.07" y="1493.20" width="1.67" height="33.80" fill="#0f0"/>
<rect x="959.30" y="1420.17" width="26.20" height="1.67" fill="#0f0"/>
<rect x="959.30" y="1523.17" width="26.20" height="1.67" fill="#0f0"/>
<rect x="972.67" y="1421.00" width="1.67" height="34.00" fill="#0f0"/>
<rect x="972.67" y="1490.20" width="1.67" height="33.80" fill="#0f0"/>
<rect x="1158.85" y="1416.87" width="26.30" height="1.67" fill="#0f0"/>
<rect x="1158.85" y="1521.17" width="26.30" height="1.67" fill="#0f0"/>
<rect x="1172.07" y="1417.70" width="1.67" height="34.65" fill="#0f0"/>
<rect x="1172.07" y="1487.55" width="1.67" height="34.45" fill="#0f0"/>
<rect x="1859.45" y="1412.97" width="28.10" height="1.67" fill="#0f0"/>
<rect x="1859.45" y="1519.67" width="28.10" height="1.67" fill="#0f0"/>
<rect x="1874.07" y="1413.80" width="1.67" height="35.85" fill="#0f0"/>
<rect x="1874.07" y="1484.85" width="1.67" height="35.65" fill="#0f0"/>
<rect x="441.90" y="1591.17" width="28.20" height="1.67" fill="#f00"/>
<rect x="441.90" y="1629.17" width="28.20" height="1.67" fill="#f00"/>
<rect x="541.00" y="1474.87" width="28.00" height="1.67" fill="#f00"/>
<rect x="541.00" y="1524.67" width="28.00" height="1.67" fill="#f00"/>
<rect x="554.17" y="1475.70" width="1.67" height="2.40" fill="#f00"/>
<rect x="554.17" y="1523.10" width="1.67" height="2.40" fill="#f00"/>
<rect x="788.80" y="1367.17" width="26.40" height="1.67" fill="#f00"/>
<rect x="788.80" y="1426.87" width="26.40" height="1.67" fill="#f00"/>
<rect x="802.07" y="1368.00" width="1.67" height="7.35" fill="#f00"/>
<rect x="802.07" y="1420.35" width="1.67" height="7.35" fill="#f00"/>
<rect x="959.30" y="1057.17" width="26.20" height="1.67" fill="#f00"/>
<rect x="959.30" y="1146.67" width="26.20" height="1.67" fill="#f00"/>
<rect x="972.67" y="1058.00" width="1.67" height="22.25" fill="#f00"/>
<rect x="972.67" y="1125.25" width="1.67" height="22.25" fill="#f00"/>
<rect x="1159.05" y="722.97" width="26.30" height="1.67" fill="#f00"/>
<rect x="1159.05" y="843.77" width="26.30" height="1.67" fill="#f00"/>
<rect x="1172.27" y="723.80" width="1.67" height="37.90" fill="#f00"/>
<rect x="1172.27" y="806.70" width="1.67" height="37.90" fill="#f00"/>
<rect x="1859.45" y="636.57" width="28.10" height="1.67" fill="#f00"/>
<rect x="1859.45" y="765.97" width="28.10" height="1.67" fill="#f00"/>
<rect x="1874.07" y="637.40" width="1.67" height="42.20" fill="#f00"/>
<rect x="1874.07" y="724.60" width="1.67" height="42.20" fill="#f00"/>
<rect x="441.90" y="1069.17" width="28.20" height="1.67" fill="#00f"/>
<rect x="441.90" y="1158.47" width="28.20" height="1.67" fill="#00f"/>
<rect x="455.27" y="1070.00" width="1.67" height="22.35" fill="#00f"/>
<rect x="455.27" y="1135.65" width="1.67" height="23.65" fill="#00f"/>
<rect x="541.00" y="1069.17" width="28.00" height="1.67" fill="#00f"/>
<rect x="541.00" y="1158.47" width="28.00" height="1.67" fill="#00f"/>
<rect x="554.17" y="1070.00" width="1.67" height="22.35" fill="#00f"/>
<rect x="554.17" y="1135.65" width="1.67" height="23.65" fill="#00f"/>
<rect x="788.80" y="921.47" width="26.40" height="1.67" fill="#00f"/>
<rect x="788.80" y="1022.47" width="26.40" height="1.67" fill="#00f"/>
<rect x="802.07" y="922.30" width="1.67" height="28.20" fill="#00f"/>
<rect x="802.07" y="993.80" width="1.67" height="29.50" fill="#00f"/>
<rect x="959.40" y="846.87" width="26.20" height="1.67" fill="#00f"/>
<rect x="959.40" y="954.47" width="26.20" height="1.67" fill="#00f"/>
<rect x="972.77" y="847.70" width="1.67" height="31.50" fill="#00f"/>
<rect x="972.77" y="922.50" width="1.67" height="32.80" fill="#00f"/>
<rect x="1159.05" y="804.27" width="26.30" height="1.67" fill="#00f"/>
<rect x="1159.05" y="916.47" width="26.30" height="1.67" fill="#00f"/>
<rect x="1172.27" y="805.10" width="1.67" height="33.80" fill="#00f"/>
<rect x="1172.27" y="882.20" width="1.67" height="35.10" fill="#00f"/>
<rect x="1859.45" y="282.97" width="28.10" height="1.67" fill="#00f"/>
<rect x="1859.45" y="446.37" width="28.10" height="1.67" fill="#00f"/>
<rect x="1874.07" y="283.80" width="1.67" height="59.40" fill="#00f"/>
<rect x="1874.07" y="386.50" width="1.67" height="60.70" fill="#00f"/>
</g>
<g id="axes">
<rect x="214.00" y="281.00" width="5.00" height="1553.50" fill="#000"/>
<rect x="185.60" y="1798.00" width="1893.40" height="5.00" fill="#000"/>
<rect x="187.20" y="1796.40" width="1889.00" height="3.60" fill="#000"/>
<rect x="185.60" y="1608.45" width="30.40" height="4.90" fill="#000"/>
<rect x="187.20" y="1606.75" width="28.00" height="3.30" fill="#000"/>
<rect x="185.60" y="1418.80" width="30.40" height="4.90" fill="#000"/>
<rect x="187.20" y="1417.10" width="28.00" height="3.30" fill="#000"/>
<rect x="185.60" y="1229.15" width="30.40" height="4.90" fill="#000"/>
<rect x="187.20" y="1227.45" width="28.00" height="3.30" fill="#000"/>
<rect x="185.60" y="1039.50" width="30.40" height="4.90" fill="#000"/>
<rect x="187.20" y="1037.80" width="28.00" height="3.30" fill="#000"/>
<rect x="185.60" y="849.85" width="30.40" height="4.90" fill="#000"/>
<rect x="187.20" y="848.15" width="28.00" height="3.30" fill="#000"/>
<rect x="185.60" y="660.20" width="30.40" height="4.90" fill="#000"/>
<rect x="187.20" y="658.50" width="28.00" height="3.30" fill="#000"/>
<rect x="185.60" y="470.55" width="30.40" height="4.90" fill="#000"/>
<rect x="187.20" y="468.85" width="28.00" height="3.30" fill="#000"/>
<rect x="185.60" y="280.90" width="30.40" height="4.90" fill="#000"/>
<rect x="187.20" y="279.20" width="28.00" height="3.30" fill="#000"/>
<rect x="198.90" y="1703.28" width="17.10" height="4.90" fill="#000"/>
<rect x="200.50" y="1701.58" width="14.70" height="3.30" fill="#000"/>
<rect x="198.90" y="1513.62" width="17.10" height="4.90" fill="#000"/>
<rect x="200.50" y="1511.92" width="14.70" height="3.30" fill="#000"/>
<rect x="198.90" y="1323.98" width="17.10" height="4.90" fill="#000"/>
<rect x="200.50" y="1322.28" width="14.70" height="3.30" fill="#000"/>
<rect x="198.90" y="1134.33" width="17.10" height="4.90" fill="#000"/>
<rect x="200.50" y="1132.63" width="14.70" height="3.30" fill="#000"/>
<rect x="198.90" y="944.67" width="17.10" height="4.90" fill="#000"/>
<rect x="200.50" y="942.98" width="14.70" height="3.30" fill="#000"/>
<rect x="198.90" y="755.02" width="17.10" height="4.90" fill="#000"/>
<rect x="200.50" y="753.33" width="14.70" height="3.30" fill="#000"/>
<rect x="198.90" y="565.37" width="17.10" height="4.90" fill="#000"/>
<rect x="200.50" y="563.67" width="14.70" height="3.30" fill="#000"/>
<rect x="198.90" y="375.73" width="17.10" height="4.90" fill="#000"/>
<rect x="200.50" y="374.03" width="14.70" height="3.30" fill="#000"/>
<rect x="382.00" y="1800.00" width="5.00" height="19.60" fill="#000"/>
<rect x="552.40" y="1800.00" width="5.00" height="34.50" fill="#000"/>
<rect x="722.50" y="1800.00" width="5.00" height="19.60" fill="#000"/>
<rect x="891.00" y="1800.00" width="5.00" height="34.50" fill="#000"/>
<rect x="1059.70" y="1800.00" width="5.00" height="19.60" fill="#000"/>
<rect x="1228.20" y="1800.00" width="5.00" height="34.50" fill="#000"/>
<rect x="1398.20" y="1800.00" width="5.00" height="19.60" fill="#000"/>
<rect x="1567.10" y="1800.00" width="5.00" height="34.50" fill="#000"/>
<rect x="1735.40" y="1800.00" width="5.00" height="19.60" fill="#000"/>
<rect x="1905.60" y="1800.00" width="5.00" height="34.50" fill="#000"/>
<rect x="2074.00" y="1800.00" width="5.00" height="19.60" fill="#000"/>
</g>
<defs><clipPath id="one"><path d="M-2 -50H40V-4.7H20.4V2H15.1V-4.7H-2Z"/></clipPath></defs>
<g id="ticklabels">
<text class="sans" font-size="60" transform="translate(139.73 1816.00) scale(1 1.0417)" clip-path="url(#one)">1</text>
<text class="sans" font-size="60" transform="translate(137.93 1625.70) scale(1 1.0264)">2</text>
<text class="sans" font-size="60" transform="translate(137.93 1436.21) scale(1 1.0122)">3</text>
<text class="sans" font-size="60" transform="translate(136.93 1246.40) scale(1 1.0417)">4</text>
<text class="sans" font-size="60" transform="translate(137.93 1055.20) scale(1 1.0271)">5</text>
<text class="sans" font-size="60" transform="translate(137.93 865.51) scale(1 1.0122)">6</text>
<text class="sans" font-size="60" transform="translate(137.93 677.20) scale(1 1.0417)">7</text>
<text class="sans" font-size="60" transform="translate(137.93 486.01) scale(1 1.0122)">8</text>
<text class="sans" font-size="60" transform="translate(137.93 296.71) scale(1 1.0122)">9</text>
<text class="sans" font-size="60" transform="translate(200.32 1898.41) scale(1 1.0122)">0</text>
<text class="sans" font-size="60" transform="translate(541.02 1899.00) scale(1 1.0417)" clip-path="url(#one)">1</text>
<text class="sans" font-size="60" transform="translate(877.42 1899.00) scale(1 1.0264)">2</text>
<text class="sans" font-size="60" transform="translate(1214.62 1898.41) scale(1 1.0122)">3</text>
<text class="sans" font-size="60" transform="translate(1551.92 1899.00) scale(1 1.0417)">4</text>
<text class="sans" font-size="60" transform="translate(1892.02 1898.40) scale(1 1.0271)">5</text>
</g>
<g id="titles">
<text class="sans" font-size="60" transform="translate(1057.13 2020.10) scale(1.0703 1.0600)" xml:space="preserve">t</text>
<text class="sans" font-size="36.5" transform="translate(1073.05 1987.00) scale(0.9460 1.0400)" xml:space="preserve">0.5</text>
<text class="sans" font-size="60" transform="translate(1118.99 2020.10) scale(0.9709 1.0000)" xml:space="preserve">(h</text>
<text class="sans" font-size="36.5" transform="translate(1168.85 1987.00) scale(0.9460 1.0400)" xml:space="preserve">0.5</text>
<text class="sans" font-size="60" transform="translate(1218.38 2020.10) scale(0.9052 1.0000)" xml:space="preserve">)</text>
<text class="sans" font-size="60" transform="translate(88.40 1199.53) rotate(-90) scale(1.0440 1.0000)">q</text>
<text class="sans" font-size="38" transform="translate(110.00 1166.49) rotate(-90) scale(0.9254 1.0000)">e</text>
<text class="sans" font-size="60" transform="translate(88.40 1146.42) rotate(-90) scale(0.8109 1.0200)">(</text>
<text class="sans" font-size="60" transform="translate(88.40 1126.34) rotate(-90) scale(1.0133 1.0200)">mg/g)</text>
</g>
<g id="legend">
<rect x="1820.00" y="30.00" width="633.00" height="306.00" fill="#fff"/>
<g>
<rect x="1818.00" y="37.00" width="3.80" height="301.60" fill="#000"/>
<rect x="1818.00" y="334.00" width="635.00" height="4.60" fill="#000"/>
</g>
<rect x="1869.00" y="75.60" width="22.00" height="23.00" fill="#000"/>
<ellipse cx="1880" cy="150.8" rx="12.4" ry="14.2" fill="#0f0"/>
<polygon points="1881.8,196 1897.6,226 1866,226" fill="#f00"/>
<polygon points="1866,269.4 1897.6,269.4 1881.8,299" fill="#00f"/>
<text class="sans" font-size="45" transform="translate(1947.25 103.00) scale(0.9810 0.9900)" xml:space="preserve">[</text>
<text class="sans" font-size="45" transform="translate(1959.52 103.00) scale(0.9810 1.0530)" xml:space="preserve">M</text>
<text class="sans" font-size="45" transform="translate(1996.29 103.00) scale(0.9810 0.9900)" xml:space="preserve">g</text>
<text class="sans" font-size="27" transform="translate(2019.16 121.30) scale(1.0569 1.0400)" xml:space="preserve">2</text>
<text class="sans" font-size="45" transform="translate(2034.31 103.00) scale(0.9696 1.0530)" xml:space="preserve">A</text>
<text class="sans" font-size="45" transform="translate(2063.42 103.00) scale(0.9696 0.9900)" xml:space="preserve">l-</text>
<text class="sans" font-size="45" transform="translate(2087.64 103.00) scale(0.9696 1.0530)" xml:space="preserve">CO</text>
<text class="sans" font-size="27" transform="translate(2151.96 121.30) scale(1.0155 1.0400)" xml:space="preserve">3</text>
<text class="sans" font-size="45" transform="translate(2168.69 103.00) scale(0.8946 0.9900)" xml:space="preserve">]</text>
<text class="sans" font-size="45" transform="translate(1947.25 167.00) scale(0.9810 0.9900)" xml:space="preserve">[</text>
<text class="sans" font-size="45" transform="translate(1959.52 167.00) scale(0.9810 1.0530)" xml:space="preserve">M</text>
<text class="sans" font-size="45" transform="translate(1996.29 167.00) scale(0.9810 0.9900)" xml:space="preserve">g</text>
<text class="sans" font-size="27" transform="translate(2019.16 185.30) scale(1.0569 1.0400)" xml:space="preserve">2</text>
<text class="sans" font-size="45" transform="translate(2034.31 167.00) scale(0.9696 1.0530)" xml:space="preserve">A</text>
<text class="sans" font-size="45" transform="translate(2063.42 167.00) scale(0.9696 0.9900)" xml:space="preserve">l-</text>
<text class="sans" font-size="45" transform="translate(2087.64 167.00) scale(0.9696 1.0530)" xml:space="preserve">CO</text>
<text class="sans" font-size="27" transform="translate(2151.96 185.30) scale(1.0155 1.0400)" xml:space="preserve">3</text>
<text class="sans" font-size="45" transform="translate(2166.05 167.00) scale(0.9753 0.9900)" xml:space="preserve">-cyanex </text>
<text class="sans" font-size="45" transform="translate(2331.91 167.00) scale(0.9753 1.0530)" xml:space="preserve">272</text>
<text class="sans" font-size="45" transform="translate(2405.14 167.00) scale(0.9753 0.9900)" xml:space="preserve">]</text>
<text class="sans" font-size="45" transform="translate(1947.21 230.00) scale(0.9951 0.9900)" xml:space="preserve">[</text>
<text class="sans" font-size="45" transform="translate(1959.65 230.00) scale(0.9951 1.0530)" xml:space="preserve">Z</text>
<text class="sans" font-size="45" transform="translate(1987.00 230.00) scale(0.9951 0.9900)" xml:space="preserve">n</text>
<text class="sans" font-size="27" transform="translate(2010.52 248.30) scale(1.0894 1.0400)" xml:space="preserve">2</text>
<text class="sans" font-size="45" transform="translate(2025.91 230.00) scale(0.9679 1.0530)" xml:space="preserve">A</text>
<text class="sans" font-size="45" transform="translate(2054.97 230.00) scale(0.9679 0.9900)" xml:space="preserve">l-</text>
<text class="sans" font-size="45" transform="translate(2079.15 230.00) scale(0.9679 1.0530)" xml:space="preserve">CO</text>
<text class="sans" font-size="27" transform="translate(2143.34 248.30) scale(1.0311 1.0400)" xml:space="preserve">3</text>
<text class="sans" font-size="45" transform="translate(2160.45 230.00) scale(0.9840 0.9900)" xml:space="preserve">]</text>
<text class="sans" font-size="45" transform="translate(1947.21 294.00) scale(0.9951 0.9900)" xml:space="preserve">[</text>
<text class="sans" font-size="45" transform="translate(1959.65 294.00) scale(0.9951 1.0530)" xml:space="preserve">Z</text>
<text class="sans" font-size="45" transform="translate(1987.00 294.00) scale(0.9951 0.9900)" xml:space="preserve">n</text>
<text class="sans" font-size="27" transform="translate(2010.52 312.30) scale(1.0894 1.0400)" xml:space="preserve">2</text>
<text class="sans" font-size="45" transform="translate(2025.91 294.00) scale(0.9679 1.0530)" xml:space="preserve">A</text>
<text class="sans" font-size="45" transform="translate(2054.97 294.00) scale(0.9679 0.9900)" xml:space="preserve">l-</text>
<text class="sans" font-size="45" transform="translate(2079.15 294.00) scale(0.9679 1.0530)" xml:space="preserve">CO</text>
<text class="sans" font-size="27" transform="translate(2143.34 312.30) scale(1.0311 1.0400)" xml:space="preserve">3</text>
<text class="sans" font-size="45" transform="translate(2158.07 294.00) scale(0.9666 0.9900)" xml:space="preserve">-cyanex </text>
<text class="sans" font-size="45" transform="translate(2322.45 294.00) scale(0.9666 1.0530)" xml:space="preserve">272</text>
<text class="sans" font-size="45" transform="translate(2395.02 294.00) scale(0.9666 0.9900)" xml:space="preserve">]</text>
</g>
<g id="equations">
<rect x="712.60" y="59.00" width="21.60" height="25.00" fill="#000"/>
<ellipse cx="713.5" cy="195.7" rx="12.5" ry="14.3" fill="#0f0"/>
<polygon points="713.5,300.4 729.4,330.6 697.6,330.6" fill="#f00"/>
<polygon points="697.6,433 729.4,433 713.5,463" fill="#00f"/>
<text class="serif" font-size="45" transform="translate(778.30 86.00) scale(0.9984 1.0180)" xml:space="preserve">Y</text>
<text class="op" font-size="40" transform="translate(805.40 83.00) scale(0.9905 1.0000)" xml:space="preserve">=</text>
<text class="serif" font-size="45" transform="translate(843.17 86.00) scale(0.9483 1.0180)" xml:space="preserve">0.088x</text>
<text class="op" font-size="40" transform="translate(957.17 84.00) scale(0.9505 1.0000)" xml:space="preserve">+</text>
<text class="serif" font-size="45" transform="translate(985.90 86.00) scale(0.9345 1.0180)" xml:space="preserve">1.311</text>
<text class="serif" font-size="45" transform="translate(813.64 153.00) scale(1.0470 1.0180)" xml:space="preserve">R</text>
<text class="serif" font-size="27" transform="translate(842.51 126.60) scale(1.0902 1.0200)" xml:space="preserve">2</text>
<text class="op" font-size="40" transform="translate(852.94 150.00) scale(0.9585 1.0000)" xml:space="preserve">=</text>
<text class="serif" font-size="45" transform="translate(891.36 153.00) scale(0.9568 1.0180)" xml:space="preserve">0.878</text>
<text class="serif" font-size="45" transform="translate(768.70 210.00) scale(0.9984 1.0180)" xml:space="preserve">Y</text>
<text class="op" font-size="40" transform="translate(795.05 207.00) scale(0.9785 1.0000)" xml:space="preserve">=</text>
<text class="serif" font-size="45" transform="translate(833.38 210.00) scale(0.9466 1.0180)" xml:space="preserve">0.222x</text>
<text class="op" font-size="40" transform="translate(947.87 208.00) scale(0.9266 1.0000)" xml:space="preserve">+</text>
<text class="serif" font-size="45" transform="translate(975.65 210.00) scale(0.9492 1.0180)" xml:space="preserve">1.962</text>
<text class="serif" font-size="45" transform="translate(813.64 276.00) scale(1.0470 1.0180)" xml:space="preserve">R</text>
<text class="serif" font-size="27" transform="translate(842.51 249.60) scale(1.0902 1.0200)" xml:space="preserve">2</text>
<text class="op" font-size="40" transform="translate(853.04 273.00) scale(0.9345 1.0000)" xml:space="preserve">=</text>
<text class="serif" font-size="45" transform="translate(879.78 276.00) scale(0.9471 1.0180)" xml:space="preserve">0.564</text>
<text class="serif" font-size="45" transform="translate(768.70 334.00) scale(0.9984 1.0180)" xml:space="preserve">Y</text>
<text class="op" font-size="40" transform="translate(795.05 331.00) scale(0.9785 1.0000)" xml:space="preserve">=</text>
<text class="serif" font-size="45" transform="translate(825.71 334.00) scale(0.9342 1.0180)" xml:space="preserve">1.215x</text>
<text class="op" font-size="40" transform="translate(936.14 332.00) scale(0.9585 1.0000)" xml:space="preserve">+</text>
<text class="serif" font-size="45" transform="translate(966.12 334.00) scale(0.9306 1.0180)" xml:space="preserve">1.54111</text>
<text class="serif" font-size="45" transform="translate(813.64 400.00) scale(1.0470 1.0180)" xml:space="preserve">R</text>
<text class="serif" font-size="27" transform="translate(842.51 373.60) scale(1.0902 1.0200)" xml:space="preserve">2</text>
<text class="op" font-size="40" transform="translate(853.04 397.00) scale(0.9345 1.0000)" xml:space="preserve">=</text>
<text class="serif" font-size="45" transform="translate(879.76 400.00) scale(0.9582 1.0180)" xml:space="preserve">0.922</text>
<text class="serif" font-size="45" transform="translate(768.70 458.00) scale(0.9984 1.0180)" xml:space="preserve">Y</text>
<text class="op" font-size="40" transform="translate(795.05 455.00) scale(0.9785 1.0000)" xml:space="preserve">=</text>
<text class="serif" font-size="45" transform="translate(833.37 458.00) scale(0.9499 1.0180)" xml:space="preserve">0.946x</text>
<text class="op" font-size="40" transform="translate(947.44 456.00) scale(0.9345 1.0000)" xml:space="preserve">+</text>
<text class="serif" font-size="45" transform="translate(973.97 458.00) scale(0.9420 1.0180)" xml:space="preserve">3.691</text>
<text class="serif" font-size="45" transform="translate(813.64 524.00) scale(1.0470 1.0180)" xml:space="preserve">R</text>
<text class="serif" font-size="27" transform="translate(842.51 497.60) scale(1.0902 1.0200)" xml:space="preserve">2</text>
<text class="op" font-size="40" transform="translate(862.24 521.00) scale(0.9825 1.0000)" xml:space="preserve">=</text>
<text class="serif" font-size="45" transform="translate(901.37 524.00) scale(0.9516 1.0180)" xml:space="preserve">0.946.</text>
</g>
</svg></body></html>
